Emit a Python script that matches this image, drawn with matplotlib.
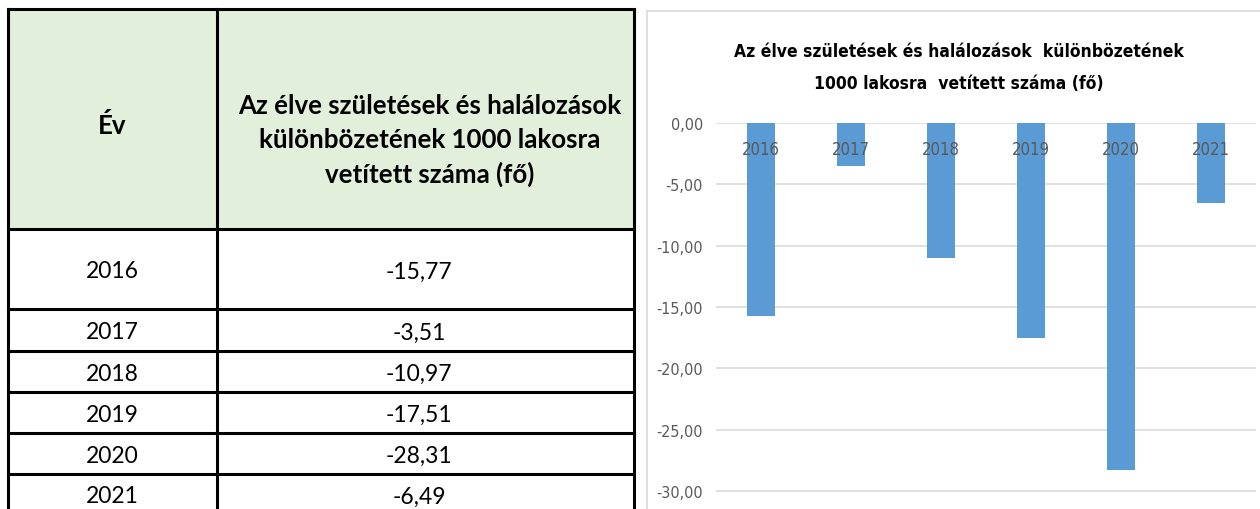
import matplotlib
matplotlib.use("Agg")
import matplotlib.pyplot as plt
from matplotlib.patches import Rectangle
from matplotlib import font_manager as fm

years = ["2016", "2017", "2018", "2019", "2020", "2021"]
values = [-15.77, -3.51, -10.97, -17.51, -28.31, -6.49]
yticks = [0, -5, -10, -15, -20, -25, -30]
col1_header = "Év"
col2_lines = ["Az élve születések és halálozások", "különbözetének 1000 lakosra", "vetített száma (fő)"]
title_lines = ["Az élve születések és halálozások  különbözetének", "1000 lakosra  vetített száma (fő)"]

W, H = 1260, 510
fig = plt.figure(figsize=(W / 100, H / 100), dpi=100)
fig.patch.set_facecolor("white")
renderer = fig.canvas.get_renderer()

# pick a condensed face if one is installed
have_cond = any(f.name == "DejaVu Sans" and f.stretch == "condensed" for f in fm.fontManager.ttflist)
if have_cond:
    chart_fp = dict(family="DejaVu Sans", stretch="condensed")
else:
    chart_fp = dict(family="Liberation Sans")

def fmt(v):
    return f"{v:.2f}".replace(".", ",")

def fit_width(txt, target_px):
    bb = txt.get_window_extent(renderer=renderer)
    txt.set_fontsize(txt.get_fontsize() * target_px / bb.width)

# ---- table (pixel coordinate overlay) ----
bg = fig.add_axes([0, 0, 1, 1])
bg.set_xlim(0, W)
bg.set_ylim(H, 0)
bg.axis("off")

tl, tr, tsep = 8, 634, 217
ttop, thead = 10, 230
row_bounds = [230, 310, 352, 393, 434, 475, 517]
tab_font = ["Lato", "DejaVu Sans"]

bg.add_patch(Rectangle((tl, ttop), tr - tl, thead - ttop, facecolor="#E2EFDA", edgecolor="none"))
lw = 2.2
bg.plot([tl, tr], [ttop, ttop], color="black", lw=lw, solid_capstyle="projecting")
for yb in row_bounds[:-1]:
    bg.plot([tl, tr], [yb, yb], color="black", lw=lw)
for xb in (tl, tsep, tr):
    bg.plot([xb, xb], [ttop, H + 5], color="black", lw=lw)

ev = bg.text((tl + tsep) / 2, 126, col1_header, ha="center", va="center", fontsize=18,
             fontweight="bold", family=tab_font)
hdr_y = [106, 140, 174]
hdr_texts = []
for yy, line in zip(hdr_y, col2_lines):
    hdr_texts.append(bg.text(430, yy, line, ha="center", va="center", fontsize=18,
                             fontweight="bold", family=tab_font))
bb0 = hdr_texts[0].get_window_extent(renderer=renderer)
scale = 382 / bb0.width
for t in hdr_texts:
    t.set_fontsize(t.get_fontsize() * scale)
ev.set_fontsize(18 * scale)

for i, (yr, v) in enumerate(zip(years, values)):
    yc = (row_bounds[i] + row_bounds[i + 1]) / 2 + 2
    if i == len(years) - 1:
        yc = 497
    bg.text(112, yc, yr, ha="center", va="center", fontsize=16.5, family=tab_font)
    bg.text(419, yc, fmt(v), ha="center", va="center", fontsize=16.5, family=tab_font)

# chart area border
bg.plot([647, 647], [12, H + 5], color="#D9D9D9", lw=1.2)
bg.plot([647, W + 5], [12, 12], color="#D9D9D9", lw=1.2)

t1 = bg.text(959, 57, title_lines[0], ha="center", va="baseline", fontsize=14,
             fontweight="bold", **chart_fp)
t2 = bg.text(959, 89, title_lines[1], ha="center", va="baseline", fontsize=14,
             fontweight="bold", **chart_fp)
fit_width(t1, 452)
t2.set_fontsize(t1.get_fontsize())

# ---- chart ----
px_per_unit = 12.27
y0_px = 124
ax_left, ax_right = 716, 1256
ymin = -(H - y0_px) / px_per_unit
ax = fig.add_axes([ax_left / W, 0, (ax_right - ax_left) / W, (H - y0_px) / H])
x = list(range(len(years)))
ax.bar(x, values, width=0.31, color="#5B9BD5", zorder=3)
ax.set_xlim(-0.5, len(years) - 0.5)
ax.set_ylim(ymin, 0)
ax.set_yticks(yticks)
ax.set_yticklabels([fmt(t) for t in yticks], fontsize=11.5, color="#595959", **chart_fp)
ax.tick_params(axis="y", length=0, pad=9.5)
ax.set_xticks([])
for s in ax.spines.values():
    s.set_visible(False)
ax.grid(axis="y", color="#D9D9D9", lw=1.1, zorder=0)
ax.set_facecolor("none")
for xi, yr in zip(x, years):
    ax.text(xi, -2.15, yr, ha="center", va="center", fontsize=12, color="#595959",
            zorder=4, **chart_fp)

fig.savefig("out.png", dpi=100)
